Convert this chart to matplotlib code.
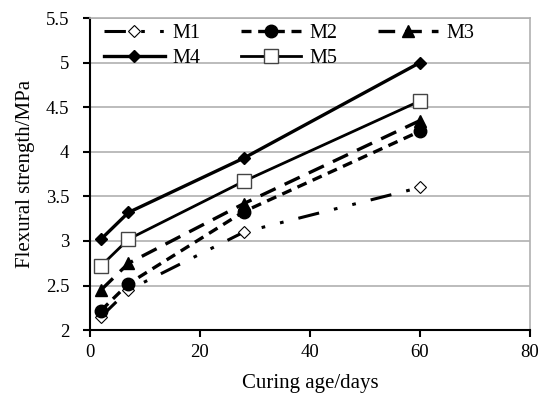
import matplotlib.pyplot as plt

plt.rcParams['font.family'] = ['Liberation Serif', 'DejaVu Serif']

days = [2, 7, 28, 60]
m1 = [2.15, 2.45, 3.10, 3.60]
m2 = [2.22, 2.52, 3.33, 4.23]
m3 = [2.45, 2.75, 3.42, 4.35]
m4 = [3.02, 3.32, 3.93, 5.00]
m5 = [2.72, 3.02, 3.67, 4.57]

fig = plt.figure(figsize=(5.39, 3.93), dpi=100)
ax = fig.add_axes([0.167, 0.160, 0.816, 0.794])

l1, = ax.plot(days, m1, color='black', lw=2.2, dashes=(7, 5, 1.2, 5, 1.2, 5),
              marker='D', ms=6, mfc='white', mec='black', mew=0.8, label='M1')
l2, = ax.plot(days, m2, color='black', lw=2.4, dashes=(3, 2),
              marker='o', ms=9, mfc='black', label='M2')
l3, = ax.plot(days, m3, color='black', lw=2.4, dashes=(5, 3),
              marker='^', ms=9, mfc='black', label='M3')
l4, = ax.plot(days, m4, color='black', lw=2.4, marker='D', ms=6,
              mfc='black', label='M4')
l5, = ax.plot(days, m5, color='black', lw=2.0, marker='s', ms=10,
              mfc='white', mec='#444444', mew=1.0, label='M5')

ax.set_xlim(0, 80)
ax.set_ylim(2, 5.5)
ax.set_xticks([0, 20, 40, 60, 80])
ax.set_yticks([2, 2.5, 3, 3.5, 4, 4.5, 5, 5.5])
ax.set_yticklabels(['2', '2.5', '3', '3.5', '4', '4.5', '5', '5.5'])
ax.yaxis.grid(True, color='#b0b0b0', lw=1.2)
ax.set_axisbelow(True)

for side in ['top', 'right']:
    ax.spines[side].set_color('#b0b0b0')
    ax.spines[side].set_linewidth(1.2)
for side in ['left', 'bottom']:
    ax.spines[side].set_linewidth(1.5)
ax.tick_params(direction='out', length=5, width=1.5, labelsize=13.5)
ax.tick_params(axis='y', pad=10)
ax.tick_params(axis='x', pad=5)

ax.set_xlabel('Curing age/days', fontsize=15, labelpad=9)
ax.set_ylabel('Flexural strength/MPa', fontsize=15, labelpad=8)

# reorder so the legend reads row by row
ax.legend(handles=[l1, l4, l2, l5, l3], ncol=3, loc='upper left',
          bbox_to_anchor=(0.0, 1.025), frameon=False, fontsize=14.5,
          handlelength=3.0, handletextpad=0.4, columnspacing=2.0,
          labelspacing=0.25, borderaxespad=0.3)

fig.savefig('out.png', dpi=100)
